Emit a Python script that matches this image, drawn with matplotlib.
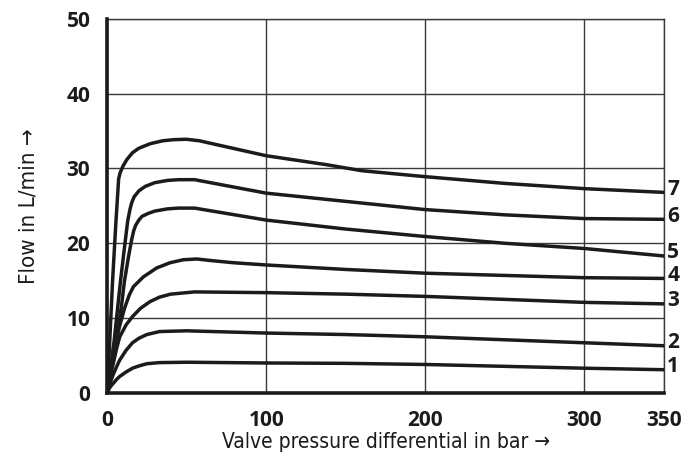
import matplotlib
matplotlib.use("Agg")
import matplotlib.pyplot as plt
from matplotlib import font_manager

# curves: (pressure bar, flow L/min)
x1 = [0, 2, 4, 6, 8, 12, 16, 20, 25, 33, 50, 100, 150, 200, 250, 300, 350]
y1 = [0, 0.8, 1.3, 1.8, 2.2, 2.8, 3.3, 3.6, 3.9, 4.05, 4.1, 4.0, 3.95, 3.8, 3.55, 3.3, 3.1]
x2 = [0, 2, 4, 6, 8, 12, 16, 20, 25, 33, 50, 100, 150, 200, 250, 300, 350]
y2 = [0, 1.4, 2.5, 3.5, 4.4, 5.7, 6.7, 7.3, 7.8, 8.2, 8.3, 8.0, 7.8, 7.5, 7.1, 6.7, 6.3]
x3 = [0, 2, 4, 6, 8, 12, 16, 21, 27, 33, 40, 55, 100, 150, 200, 250, 300, 350]
y3 = [0, 2.2, 4.0, 5.9, 7.5, 9.1, 10.2, 11.3, 12.2, 12.8, 13.2, 13.5, 13.4, 13.2, 12.9, 12.5, 12.1, 11.9]
x4 = [0, 2, 4, 6, 8, 11, 14, 16.6, 22.8, 31.2, 39.6, 48, 56.4, 64.8, 79.4, 100, 150, 200, 250, 300, 350]
y4 = [0, 2.6, 5.0, 7.2, 9.0, 11.3, 13.1, 14.2, 15.5, 16.7, 17.4, 17.8, 17.9, 17.7, 17.4, 17.1, 16.5, 16.0, 15.7, 15.4, 15.3]
x5 = [0, 3, 6, 9, 11, 13.5, 15.5, 16.8, 18, 20, 22, 26, 30, 38, 45, 55, 100, 150, 200, 250, 300, 350]
y5 = [0, 3.5, 7.0, 11.5, 15.0, 18.2, 20.5, 21.7, 22.4, 23.1, 23.6, 24.0, 24.3, 24.6, 24.7, 24.7, 23.1, 21.9, 20.9, 20.0, 19.3, 18.3]
x6 = [0, 2.5, 4.5, 6.5, 8.5, 11, 13, 14.5, 15.5, 17, 20, 24, 30, 38, 45, 55, 100, 150, 200, 250, 300, 350]
y6 = [0, 3.8, 7.0, 11.0, 15.0, 19.5, 23.0, 24.6, 25.4, 26.2, 27.0, 27.6, 28.1, 28.4, 28.5, 28.5, 26.7, 25.6, 24.5, 23.8, 23.3, 23.2]
x7 = [0, 1.5, 3.5, 5.5, 7.3, 8.2, 10, 12.5, 16, 20, 27, 35, 42, 50, 58, 100, 138, 160, 200, 250, 300, 350]
y7 = [0, 6.0, 15.0, 22.5, 28.6, 29.4, 30.3, 31.2, 32.1, 32.7, 33.3, 33.7, 33.85, 33.9, 33.7, 31.7, 30.5, 29.7, 28.9, 28.0, 27.3, 26.8]

curves = [(x1, y1), (x2, y2), (x3, y3), (x4, y4), (x5, y5), (x6, y6), (x7, y7)]
curve_names = ["1", "2", "3", "4", "5", "6", "7"]

x_ticks = [0, 100, 200, 300, 350]
y_ticks = [0, 10, 20, 30, 40, 50]

bold_fam = ["Open Sans", "DejaVu Sans"]
cond = [f for f in font_manager.fontManager.ttflist
        if f.name == "DejaVu Sans" and "Condensed" in f.fname and "Bold" not in f.fname
        and "Oblique" not in f.fname]
if cond:
    label_font = dict(fontproperties=font_manager.FontProperties(fname=cond[0].fname, size=15))
    ylabel_font = dict(fontproperties=font_manager.FontProperties(fname=cond[0].fname, size=16))
else:
    label_font = dict(family=["Roboto", "DejaVu Sans"], fontsize=14)
    ylabel_font = dict(family=["Roboto", "DejaVu Sans"], fontsize=15)

fig = plt.figure(figsize=(6.86, 4.59), dpi=100)
ax = fig.add_axes([0.156, 0.144, 0.812, 0.815])

for (xs, ys), name in zip(curves, curve_names):
    ax.plot(xs, ys, color="#1c1a1a", lw=2.5, solid_joinstyle="round",
            solid_capstyle="round", zorder=3)
    ax.text(352, ys[-1] + 0.4, name, ha="left", va="center",
            fontsize=15, fontweight="bold", color="#1c1a1a",
            family=bold_fam, clip_on=False)

ax.set_xlim(0, 350)
ax.set_ylim(0, 50)
ax.set_xticks(x_ticks)
ax.set_yticks(y_ticks)
ax.grid(True, color="#3a3a3a", lw=1.0, zorder=1)
ax.tick_params(length=0, pad=12, labelsize=15, colors="#1c1a1a")
for lab in ax.get_xticklabels() + ax.get_yticklabels():
    lab.set_fontweight("bold")
    lab.set_family(bold_fam)

for side in ["left", "bottom"]:
    ax.spines[side].set_linewidth(2.6)
    ax.spines[side].set_color("#1c1a1a")
    ax.spines[side].set_zorder(4)
for side in ["top", "right"]:
    ax.spines[side].set_linewidth(1.0)
    ax.spines[side].set_color("#3a3a3a")

ax.set_xlabel("Valve pressure differential in bar \u2192", color="#1c1a1a",
              labelpad=1, **label_font)
ax.set_ylabel("Flow in L/min \u2192", color="#1c1a1a", labelpad=20, **ylabel_font)

fig.savefig("out.png", dpi=100)
